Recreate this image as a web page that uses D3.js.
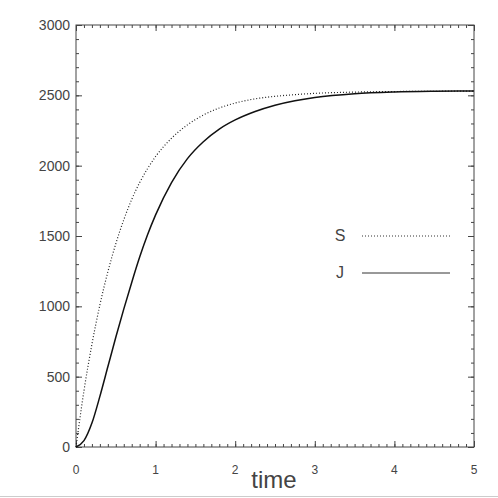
<!DOCTYPE html>
<html>
<head>
<meta charset="utf-8">
<script src="https://cdn.jsdelivr.net/npm/d3@7"></script>
<style>
  body { margin: 0; background: #fff; }
  svg { display: block; }
  text { font-family: "Liberation Sans", Arial, sans-serif; fill: #444; }
</style>
</head>
<body>
<svg id="chart" width="498" height="498"></svg>
<script>
// values
var times = [0, 0.1, 0.2, 0.3, 0.4, 0.5, 0.6, 0.7, 0.8, 0.9, 1.0, 1.2, 1.4, 1.6, 1.8, 2.0, 2.25, 2.5, 2.75, 3.0, 3.5, 4.0, 4.5, 5.0];
var sValues = [0, 400, 730, 1010, 1245, 1445, 1615, 1760, 1880, 1980, 2065, 2195, 2290, 2360, 2410, 2445, 2475, 2493, 2505, 2514, 2523, 2527, 2529, 2530];
var jValues = [0, 45, 170, 360, 570, 780, 980, 1170, 1350, 1510, 1650, 1880, 2050, 2170, 2260, 2325, 2385, 2430, 2462, 2485, 2512, 2524, 2529, 2531];
var xTicks = [0, 1, 2, 3, 4, 5];
var yTicks = [0, 500, 1000, 1500, 2000, 2500, 3000];
var legendItems = [
  { name: "S", dash: "1,2" },
  { name: "J", dash: null }
];

(function () {
  var svg = d3.select("#chart");
  var left = 76, right = 474, top = 25, bottom = 447;

  var x = d3.scaleLinear().domain([0, 5]).range([left, right]);
  var y = d3.scaleLinear().domain([0, 3000]).range([bottom, top]);

  var axisColor = "#444";

  // minor + major ticks, pointing inward on all four sides
  function ticks(axis, scale, major, minorStep, sideTranslate) {
    var minor = d3.range(scale.domain()[0], scale.domain()[1] + minorStep / 2, minorStep);
    var g = svg.append("g").attr("transform", sideTranslate);
    g.call(axis(scale).tickValues(minor).tickSize(-3).tickFormat(""));
    g.select(".domain").remove();
    g.selectAll("line").attr("stroke", axisColor);
    var g2 = svg.append("g").attr("transform", sideTranslate);
    g2.call(axis(scale).tickValues(major).tickSize(-6).tickFormat(""));
    g2.select(".domain").remove();
    g2.selectAll("line").attr("stroke", axisColor);
  }

  ticks(d3.axisBottom, x, xTicks, 0.1, "translate(0," + bottom + ")");
  ticks(d3.axisTop, x, xTicks, 0.1, "translate(0," + top + ")");
  ticks(d3.axisLeft, y, yTicks, 100, "translate(" + left + ",0)");
  ticks(d3.axisRight, y, yTicks, 100, "translate(" + right + ",0)");

  svg.append("rect")
    .attr("x", left).attr("y", top)
    .attr("width", right - left).attr("height", bottom - top)
    .attr("fill", "none").attr("stroke", axisColor).attr("stroke-width", 1);

  // tick labels
  svg.selectAll(".xlab").data(xTicks).enter().append("text")
    .attr("x", function (d) { return x(d); })
    .attr("y", 474)
    .attr("text-anchor", "middle")
    .attr("font-size", 12)
    .text(function (d) { return d; });

  svg.selectAll(".ylab").data(yTicks).enter().append("text")
    .attr("x", 70)
    .attr("y", function (d) { return y(d) + 5; })
    .attr("text-anchor", "end")
    .attr("font-size", 14)
    .text(function (d) { return d; });

  svg.append("text")
    .attr("x", 274).attr("y", 488)
    .attr("text-anchor", "middle")
    .attr("font-size", 24)
    .attr("fill", "#333")
    .text("time");

  // curves
  var line = d3.line()
    .x(function (d, i) { return x(times[i]); })
    .y(function (d) { return y(d); })
    .curve(d3.curveMonotoneX);

  svg.append("path").datum(sValues)
    .attr("d", line)
    .attr("fill", "none")
    .attr("stroke", "#222")
    .attr("stroke-width", 1.2)
    .attr("stroke-dasharray", "1,2");

  svg.append("path").datum(jValues)
    .attr("d", line)
    .attr("fill", "none")
    .attr("stroke", "#111")
    .attr("stroke-width", 1.5);

  // legend
  var leg = svg.selectAll(".leg").data(legendItems).enter().append("g")
    .attr("transform", function (d, i) { return "translate(0," + (236 + i * 37) + ")"; });
  leg.append("text")
    .attr("x", 340).attr("y", 5)
    .attr("text-anchor", "middle")
    .attr("font-size", 16)
    .text(function (d) { return d.name; });
  leg.append("line")
    .attr("x1", 362).attr("x2", 450)
    .attr("stroke", "#333")
    .attr("stroke-width", 1)
    .attr("stroke-dasharray", function (d) { return d.dash; });

  // faint frame line at the bottom of the picture
  svg.append("line")
    .attr("x1", 0).attr("x2", 498).attr("y1", 496.5).attr("y2", 496.5)
    .attr("stroke", "#ccc");
})();
</script>
</body>
</html>
